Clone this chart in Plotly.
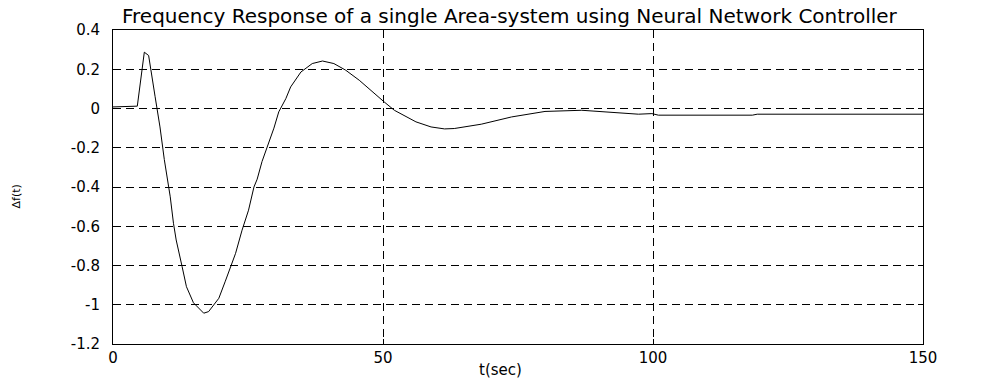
import plotly.graph_objects as go

t_sec = [0, 4.5, 5.8, 6.6, 7.8, 8.7, 9.5, 10.0, 10.6, 11.2, 11.7, 12.8, 13.6, 14.9,
         16.8, 17.7, 19.6, 20.8, 22.7, 23.9, 25.1, 26.1, 26.7, 27.6, 28.6, 29.8,
         30.7, 31.0, 32.0, 32.9, 34.8, 36.9, 38.8, 40.9, 43.1, 45.6, 47.4, 49.0,
         50.2, 52.1, 54.0, 56.1, 58.9, 61.4, 63.2, 68.2, 73.8, 80.0, 86.8, 93.6,
         97.3, 99.8, 101.0, 118.4, 119.3, 150]
delta_f = [0.008, 0.012, 0.287, 0.27, 0.06, -0.094, -0.26, -0.35, -0.45, -0.585,
           -0.67, -0.806, -0.908, -0.99, -1.043, -1.035, -0.967, -0.88, -0.738,
           -0.62, -0.518, -0.40, -0.36, -0.27, -0.195, -0.10, -0.017, 0.0, 0.05,
           0.11, 0.186, 0.229, 0.242, 0.229, 0.195, 0.144, 0.10, 0.059, 0.034,
           -0.009, -0.039, -0.068, -0.094, -0.104, -0.102, -0.08, -0.043, -0.015,
           -0.009, -0.02, -0.029, -0.026, -0.034, -0.034, -0.029, -0.029]

x_ticks = [0, 50, 100, 150]
y_ticks = [0.4, 0.2, 0, -0.2, -0.4, -0.6, -0.8, -1, -1.2]
y_tick_labels = ["0.4", "0.2", "0", "-0.2", "-0.4", "-0.6", "-0.8", "-1", "-1.2"]

title_text = "Frequency Response of a single Area-system using Neural Network Controller"
x_label = "t(sec)"
y_label = "Δf(t)"

FONT = "DejaVu Sans"

fig = go.Figure()
fig.add_trace(go.Scatter(x=t_sec, y=delta_f, mode="lines",
                         line=dict(color="black", width=1), showlegend=False))

axis_common = dict(showline=True, linecolor="black", linewidth=1, mirror="ticks",
                   ticks="inside", ticklen=5, tickcolor="black",
                   showgrid=True, gridcolor="black", gridwidth=1, griddash="8px,5px",
                   zeroline=False, tickfont=dict(family=FONT, size=15, color="black"))

fig.update_xaxes(range=[0, 150], tickvals=x_ticks, ticktext=[str(v) for v in x_ticks],
                 ticklabelstandoff=0, **axis_common)
fig.update_yaxes(range=[-1.2, 0.4], tickvals=y_ticks, ticktext=y_tick_labels,
                 ticklabelstandoff=9, **axis_common)

fig.update_layout(
    width=995, height=378,
    margin=dict(l=113, r=72, t=30, b=34, pad=0),
    paper_bgcolor="white", plot_bgcolor="white",
    annotations=[
        dict(text=title_text, xref="paper", yref="paper", x=0.49, y=1.0,
             xanchor="center", yanchor="bottom", yshift=0, showarrow=False,
             font=dict(family=FONT, size=20, color="black")),
        dict(text=x_label, xref="paper", yref="paper", x=0.478, y=0,
             xanchor="center", yanchor="top", yshift=-15, showarrow=False,
             font=dict(family=FONT, size=15, color="black")),
        dict(text=y_label, xref="paper", yref="paper", x=0, y=0.47,
             xanchor="center", yanchor="middle", xshift=-97, textangle=-90,
             showarrow=False, font=dict(family=FONT, size=11, color="black")),
    ],
)

fig.write_html("out.html")
